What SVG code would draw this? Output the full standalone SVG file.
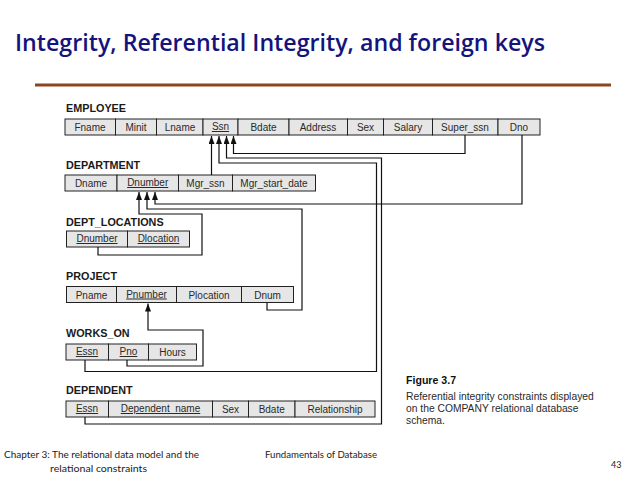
<svg xmlns="http://www.w3.org/2000/svg" width="638" height="479" viewBox="0 0 638 479">
<style>
.cell{fill:#e6e6e6;stroke:#222;stroke-width:1}
.ct{font-family:"Liberation Sans",Arial,sans-serif;font-size:10px;fill:#2a2a2a;text-anchor:middle}
.u{text-decoration:underline}
.lbl{font-family:"Liberation Sans",Arial,sans-serif;font-size:10.8px;font-weight:bold;fill:#1a1a1a}
.con{fill:none;stroke:#111;stroke-width:1.2}
.foot{font-family:Lato,"Open Sans",sans-serif;font-size:9px;fill:#222}
.cap{font-family:"Liberation Sans",Arial,sans-serif;font-size:10.3px;fill:#2a2a2a}
</style>
<defs>
<marker id="ah" markerUnits="userSpaceOnUse" markerWidth="8" markerHeight="6" refX="8" refY="3" orient="auto" viewBox="0 0 8 6">
<path d="M0,0 L8,3 L0,6 Z" fill="#111"/>
</marker>
</defs>
<rect width="638" height="479" fill="#fff"/>
<g id="title">
<text x="15" y="51" font-family="'Open Sans',sans-serif" font-size="23" font-weight="600" fill="#14147c" textLength="530" lengthAdjust="spacingAndGlyphs">Integrity, Referential Integrity, and foreign keys</text>
<rect x="35" y="83.5" width="576" height="3" fill="#8b451f"/>
</g>
<g id="employee">
<text class="lbl" x="66" y="112">EMPLOYEE</text>
<rect class="cell" x="65" y="119" width="50.5" height="16"/>
<rect class="cell" x="115.5" y="119" width="41" height="16"/>
<rect class="cell" x="156.5" y="119" width="46.5" height="16"/>
<rect class="cell" x="203" y="119" width="35" height="16"/>
<rect class="cell" x="238" y="119" width="51" height="16"/>
<rect class="cell" x="289" y="119" width="58.5" height="16"/>
<rect class="cell" x="347.5" y="119" width="36" height="16"/>
<rect class="cell" x="383.5" y="119" width="49" height="16"/>
<rect class="cell" x="432.5" y="119" width="65.5" height="16"/>
<rect class="cell" x="498" y="119" width="42" height="16"/>
<text class="ct" x="90" y="131">Fname</text>
<text class="ct" x="136" y="131">Minit</text>
<text class="ct" x="180" y="131">Lname</text>
<text class="ct u" x="220.5" y="130">Ssn</text>
<text class="ct" x="263.5" y="131">Bdate</text>
<text class="ct" x="318" y="131">Address</text>
<text class="ct" x="365.5" y="131">Sex</text>
<text class="ct" x="408" y="131">Salary</text>
<text class="ct" x="465" y="131">Super_ssn</text>
<text class="ct" x="519" y="131">Dno</text>
</g>
<g id="department">
<text class="lbl" x="66" y="169">DEPARTMENT</text>
<rect class="cell" x="65" y="175" width="52" height="16"/>
<rect class="cell" x="117" y="175" width="61.5" height="16"/>
<rect class="cell" x="178.5" y="175" width="54" height="16"/>
<rect class="cell" x="232.5" y="175" width="83" height="16"/>
<text class="ct" x="91" y="187">Dname</text>
<text class="ct u" x="147.7" y="186">Dnumber</text>
<text class="ct" x="205.5" y="187">Mgr_ssn</text>
<text class="ct" x="274" y="187">Mgr_start_date</text>
</g>
<g id="dept_locations">
<text class="lbl" x="66" y="225.5">DEPT_LOCATIONS</text>
<rect class="cell" x="66.5" y="231" width="61" height="16"/>
<rect class="cell" x="127.5" y="231" width="62" height="16"/>
<text class="ct u" x="97" y="242">Dnumber</text>
<text class="ct u" x="158.5" y="242">Dlocation</text>
</g>
<g id="project">
<text class="lbl" x="66" y="280">PROJECT</text>
<rect class="cell" x="66.5" y="286.5" width="50" height="16"/>
<rect class="cell" x="116.5" y="286.5" width="60" height="16"/>
<rect class="cell" x="176.5" y="286.5" width="65" height="16"/>
<rect class="cell" x="241.5" y="286.5" width="52" height="16"/>
<text class="ct" x="91.5" y="298.5">Pname</text>
<text class="ct u" x="146.5" y="297.5">Pnumber</text>
<text class="ct" x="209" y="298.5">Plocation</text>
<text class="ct" x="267.5" y="298.5">Dnum</text>
</g>
<g id="works_on">
<text class="lbl" x="66" y="337">WORKS_ON</text>
<rect class="cell" x="66" y="344" width="42.5" height="16"/>
<rect class="cell" x="108.5" y="344" width="40" height="16"/>
<rect class="cell" x="148.5" y="344" width="48" height="16"/>
<text class="ct u" x="87" y="355">Essn</text>
<text class="ct u" x="128.5" y="355">Pno</text>
<text class="ct" x="172.5" y="356">Hours</text>
</g>
<g id="dependent">
<text class="lbl" x="66" y="394">DEPENDENT</text>
<rect class="cell" x="66" y="401" width="42.5" height="16"/>
<rect class="cell" x="108.5" y="401" width="104" height="16"/>
<rect class="cell" x="212.5" y="401" width="36" height="16"/>
<rect class="cell" x="248.5" y="401" width="46.5" height="16"/>
<rect class="cell" x="295" y="401" width="80" height="16"/>
<text class="ct u" x="87" y="412">Essn</text>
<text class="ct u" x="160.5" y="412">Dependent_name</text>
<text class="ct" x="230.5" y="413">Sex</text>
<text class="ct" x="271.7" y="413">Bdate</text>
<text class="ct" x="335" y="413">Relationship</text>
</g>
<g id="connectors">
<polyline class="con" points="211.5,175 211.5,136" marker-end="url(#ah)"/>
<polyline class="con" points="85,360 85,371.5 376.5,371.5 376.5,163 219,163 219,136" marker-end="url(#ah)"/>
<polyline class="con" points="85,417 85,424 381.5,424 381.5,158 226.5,158 226.5,136" marker-end="url(#ah)"/>
<polyline class="con" points="465,135 465,153.5 233.5,153.5 233.5,136" marker-end="url(#ah)"/>
<polyline class="con" points="522,135 522,204 155,204 155,192" marker-end="url(#ah)"/>
<polyline class="con" points="267,302.5 267,310 302,310 302,209 147,209 147,192" marker-end="url(#ah)"/>
<polyline class="con" points="98,247 98,255 202,255 202,214 139,214 139,192" marker-end="url(#ah)"/>
<polyline class="con" points="127,360 127,366 203,366 203,330 148,330 148,303.5" marker-end="url(#ah)"/>
</g>
<g id="caption">
<text x="406" y="384" font-family="'Liberation Sans',Arial,sans-serif" font-size="10.6" font-weight="bold" fill="#111">Figure 3.7</text>
<text class="cap" x="406" y="400">Referential integrity constraints displayed</text>
<text class="cap" x="406" y="412">on the COMPANY relational database</text>
<text class="cap" x="406" y="424">schema.</text>
</g>
<g id="footer">
<text class="foot" x="4" y="457.5" textLength="195" lengthAdjust="spacingAndGlyphs">Chapter 3: The relational data model and the</text>
<text class="foot" x="50" y="471.5" textLength="97" lengthAdjust="spacingAndGlyphs">relational constraints</text>
<text class="foot" x="265" y="457.5" textLength="112" lengthAdjust="spacingAndGlyphs">Fundamentals of Database</text>
<text class="foot" x="611" y="468" font-size="9.5">43</text>
</g>
</svg>
